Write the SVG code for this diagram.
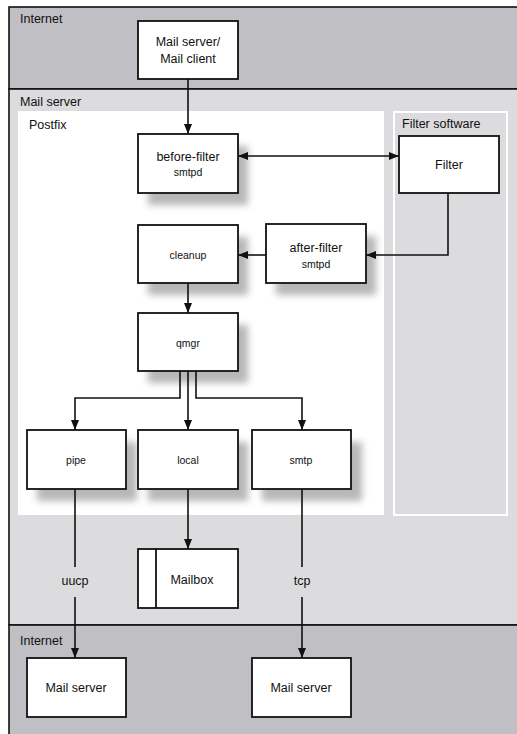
<svg xmlns="http://www.w3.org/2000/svg" width="517" height="734" viewBox="0 0 517 734">
<style>
.box{fill:#fff;stroke:#111;stroke-width:1.8}
.t{font-family:"Liberation Sans",Arial,sans-serif;font-size:12.5px;fill:#111}
.ts{font-family:"Liberation Sans",Arial,sans-serif;font-size:10.5px;fill:#111}
.sm{font-family:"Liberation Sans",Arial,sans-serif;font-size:10.5px;fill:#111}
.c{stroke:#111;stroke-width:1.6;fill:none}
.sh{fill:#999;opacity:0.7;filter:url(#blur)}
</style>
<defs>
<filter id="blur" x="-30%" y="-30%" width="160%" height="160%"><feGaussianBlur stdDeviation="3.5"/></filter>
<marker id="ah" viewBox="0 0 10 8" refX="10" refY="4" markerWidth="10" markerHeight="8" markerUnits="userSpaceOnUse" orient="auto-start-reverse"><path d="M0,0 L10,4 L0,8 z" fill="#111"/></marker>
</defs>
<g id="regions">
<rect x="9" y="7" width="520" height="82" fill="#c0bfc4" stroke="#111" stroke-width="1.6"/>
<rect x="9" y="89" width="520" height="536" fill="#dcdcde" stroke="#111" stroke-width="1.6"/>
<rect x="9" y="625" width="520" height="120" fill="#c0bfc4" stroke="#111" stroke-width="1.6"/>
<rect x="18" y="111" width="366" height="404" fill="#fff"/>
<rect x="394" y="112" width="113" height="403" fill="#dcdcde" stroke="#fff" stroke-width="2"/>
<text class="t" x="20" y="23">Internet</text>
<text class="t" x="20" y="106">Mail server</text>
<text class="t" x="29" y="129">Postfix</text>
<text class="t" x="402" y="128">Filter software</text>
<text class="t" x="20" y="645">Internet</text>
</g>
<g id="shadows">
<rect class="sh" x="148" y="146" width="100" height="59"/>
<rect class="sh" x="148" y="237" width="100" height="58"/>
<rect class="sh" x="276" y="236" width="100" height="59"/>
<rect class="sh" x="148" y="325" width="100" height="58"/>
<rect class="sh" x="37" y="442" width="100" height="59"/>
<rect class="sh" x="148" y="442" width="100" height="59"/>
<rect class="sh" x="262" y="442" width="100" height="59"/>
</g>
<g id="connectors">
<path class="c" d="M188,79 V134" marker-end="url(#ah)"/>
<path class="c" d="M238,156 H399" marker-start="url(#ah)" marker-end="url(#ah)"/>
<path class="c" d="M448,193 V255 H366" marker-end="url(#ah)"/>
<path class="c" d="M266,255 H238" marker-end="url(#ah)"/>
<path class="c" d="M188,283 V313" marker-end="url(#ah)"/>
<path class="c" d="M180,371 V398 H75 V430" marker-end="url(#ah)"/>
<path class="c" d="M188,371 V430" marker-end="url(#ah)"/>
<path class="c" d="M196,371 V398 H302 V430" marker-end="url(#ah)"/>
<path class="c" d="M75,489 V567"/>
<path class="c" d="M75,597 V658" marker-end="url(#ah)"/>
<path class="c" d="M188,489 V549" marker-end="url(#ah)"/>
<path class="c" d="M302,489 V567"/>
<path class="c" d="M302,597 V658" marker-end="url(#ah)"/>
<text class="t" x="75" y="585" text-anchor="middle">uucp</text>
<text class="t" x="302" y="585" text-anchor="middle">tcp</text>
</g>
<g id="mail-client">
<rect class="box" x="138" y="21" width="100" height="58"/>
<text class="t" x="188" y="46" text-anchor="middle">Mail server/</text>
<text class="t" x="188" y="63" text-anchor="middle">Mail client</text>
</g>
<g id="before-filter">
<rect class="box" x="138" y="134" width="100" height="59"/>
<text class="t" x="188" y="161" text-anchor="middle">before-filter</text>
<text class="ts" x="188" y="176" text-anchor="middle">smtpd</text>
</g>
<g id="filter">
<rect class="box" x="399" y="136" width="100" height="57"/>
<text class="t" x="449" y="169" text-anchor="middle">Filter</text>
</g>
<g id="cleanup">
<rect class="box" x="138" y="225" width="100" height="58"/>
<text class="sm" x="188" y="259" text-anchor="middle">cleanup</text>
</g>
<g id="after-filter">
<rect class="box" x="266" y="224" width="100" height="59"/>
<text class="t" x="316" y="252" text-anchor="middle">after-filter</text>
<text class="ts" x="316" y="268" text-anchor="middle">smtpd</text>
</g>
<g id="qmgr">
<rect class="box" x="138" y="313" width="100" height="58"/>
<text class="sm" x="188" y="347" text-anchor="middle">qmgr</text>
</g>
<g id="pipe">
<rect class="box" x="27" y="430" width="99" height="59"/>
<text class="sm" x="76" y="464" text-anchor="middle">pipe</text>
</g>
<g id="local">
<rect class="box" x="138" y="430" width="100" height="59"/>
<text class="sm" x="188" y="464" text-anchor="middle">local</text>
</g>
<g id="smtp">
<rect class="box" x="252" y="430" width="99" height="59"/>
<text class="sm" x="301" y="464" text-anchor="middle">smtp</text>
</g>
<g id="mailbox">
<rect class="box" x="138" y="549" width="100" height="59"/>
<line x1="156" y1="549" x2="156" y2="608" stroke="#111" stroke-width="1.8"/>
<text class="t" x="192" y="584" text-anchor="middle">Mailbox</text>
</g>
<g id="mail-server-1">
<rect class="box" x="27" y="658" width="99" height="59"/>
<text class="t" x="76" y="692" text-anchor="middle">Mail server</text>
</g>
<g id="mail-server-2">
<rect class="box" x="252" y="658" width="99" height="59"/>
<text class="t" x="301" y="692" text-anchor="middle">Mail server</text>
</g>
</svg>
